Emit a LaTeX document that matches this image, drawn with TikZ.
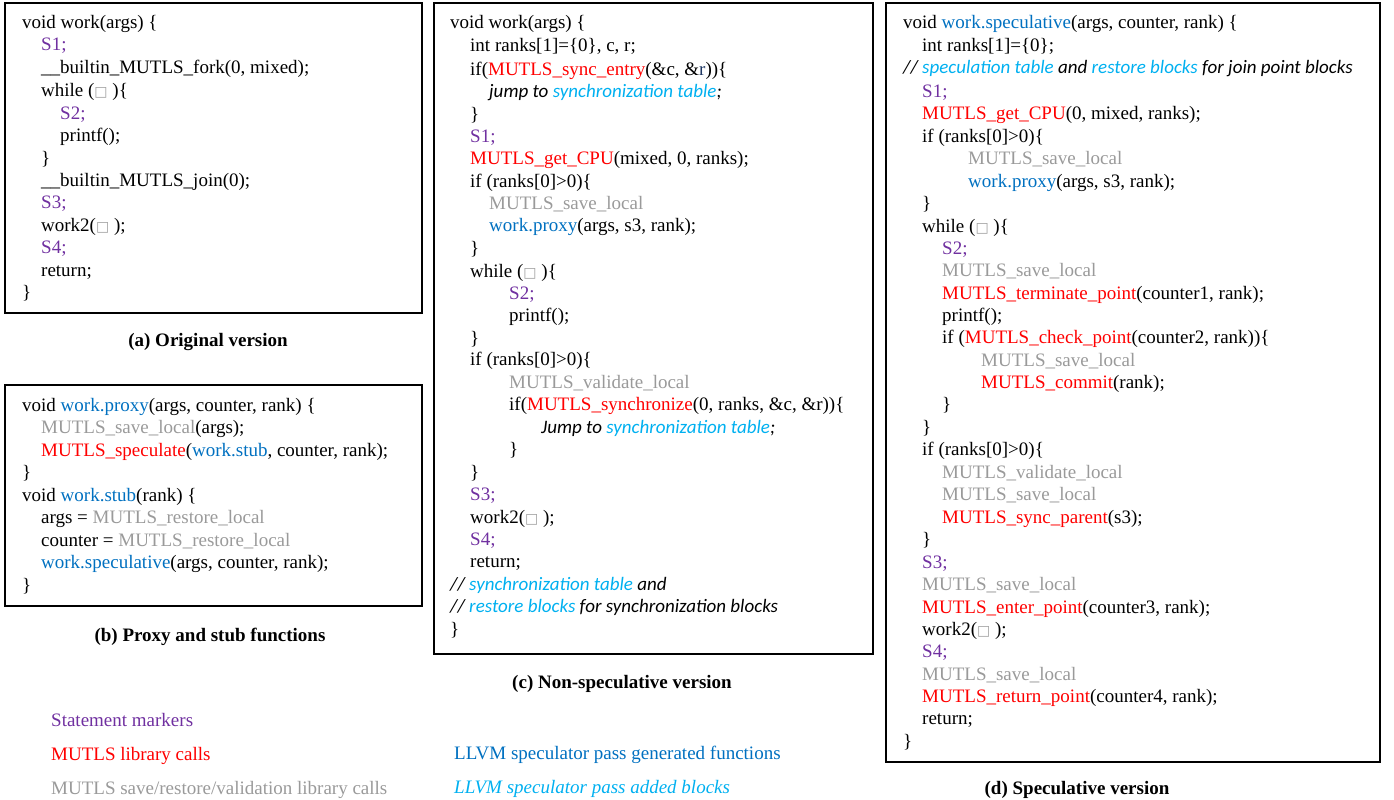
\documentclass[tikz,border=0pt]{standalone}
\usepackage{fontspec}
\setmainfont{Liberation Serif}
\newfontfamily\dejavu{DejaVu Sans}
\newfontfamily\carlito{Carlito}
\definecolor{cpurple}{HTML}{7030A0}
\definecolor{cred}{HTML}{FF0000}
\definecolor{cgray}{HTML}{9A9A9A}
\definecolor{cblue}{HTML}{0070C0}
\definecolor{clblue}{HTML}{00B0F0}
\definecolor{cnavy}{HTML}{1F3864}
\definecolor{boxgray}{HTML}{A0A0A0}
\newcommand\Cmk[1]{\textcolor{cpurple}{#1}}
\newcommand\Clib[1]{\textcolor{cred}{#1}}
\newcommand\Csv[1]{\textcolor{cgray}{#1}}
\newcommand\Cgen[1]{\textcolor{cblue}{#1}}
\newcommand\Cadd[1]{\textcolor{clblue}{#1}}
\newcommand\Ccom[1]{{\carlito\itshape #1}}
\newcommand\Bx{{\color{boxgray}\dejavu\fontsize{14}{14}\selectfont □}}
\newcounter{lnc}
\newcommand\Ln[3]{\stepcounter{lnc}\node[code] (ln\arabic{lnc}) at (#1,#2+6) {#3};}
\tikzset{
  code/.style={anchor=base west, inner sep=0pt, font=\fontsize{19}{23}\selectfont},
  panel/.style={draw=black, line width=1.4pt},
  caption/.style={anchor=base, inner sep=0pt, font=\fontsize{19}{23}\selectfont\bfseries},
}
\begin{document}
\begin{tikzpicture}[x=1pt,y=-1pt]
\useasboundingbox (0,0) rectangle (1394,800);
% panels
\draw[panel] (5,3) rectangle (422,313) node[pos=0,inner sep=0pt] (pa) {};
\draw[panel] (5,385) rectangle (422,606) node[pos=0,inner sep=0pt] (pb) {};
\draw[panel] (434,3) rectangle (873,654) node[pos=0,inner sep=0pt] (pc) {};
\draw[panel] (886,3) rectangle (1380,762) node[pos=0,inner sep=0pt] (pd) {};
% captions
\node[caption] (capa) at (208,346) {(a) Original version};
\node[caption] (capb) at (210,641) {(b) Proxy and stub functions};
\node[caption] (capc) at (622,688) {(c) Non-speculative version};
\node[caption] (capd) at (1077,794) {(d) Speculative version};
% (a)
\Ln{22}{23}{void work(args) \{}
\Ln{41}{45}{\Cmk{S1;}}
\Ln{41}{68}{\_\_builtin\_MUTLS\_fork(0, mixed);}
\Ln{41}{90}{while (\Bx\ )\{}
\Ln{60}{113}{\Cmk{S2;}}
\Ln{60}{135}{printf();}
\Ln{41}{158}{\}}
\Ln{41}{180}{\_\_builtin\_MUTLS\_join(0);}
\Ln{41}{202}{\Cmk{S3;}}
\Ln{41}{225}{work2(\Bx\ );}
\Ln{41}{247}{\Cmk{S4;}}
\Ln{41}{270}{return;}
\Ln{22}{292}{\}}
% (b)
\Ln{22}{405}{void \Cgen{work.proxy}(args, counter, rank) \{}
\Ln{41}{427}{\Csv{MUTLS\_save\_local}(args);}
\Ln{41}{450}{\Clib{MUTLS\_speculate}(\Cgen{work.stub}, counter, rank);}
\Ln{22}{472}{\}}
\Ln{22}{495}{void \Cgen{work.stub}(rank) \{}
\Ln{41}{517}{args = \Csv{MUTLS\_restore\_local}}
\Ln{41}{540}{counter = \Csv{MUTLS\_restore\_local}}
\Ln{41}{562}{\Cgen{work.speculative}(args, counter, rank);}
\Ln{22}{585}{\}}
% (c)
\Ln{450}{23}{void work(args) \{}
\Ln{470}{46}{int ranks[1]=\{0\}, c, r;}
\Ln{470}{69}{if(\Clib{MUTLS\_sync\_entry}(\&c, \&\textcolor{cnavy}{r}))\{}
\Ln{489}{91}{\Ccom{jump to \Cadd{synchronization table};}}
\Ln{470}{114}{\}}
\Ln{470}{136}{\Cmk{S1;}}
\Ln{470}{158}{\Clib{MUTLS\_get\_CPU}(mixed, 0, ranks);}
\Ln{470}{181}{if (ranks[0]>0)\{}
\Ln{489}{203}{\Csv{MUTLS\_save\_local}}
\Ln{489}{225}{\Cgen{work.proxy}(args, s3, rank);}
\Ln{470}{248}{\}}
\Ln{470}{271}{while (\Bx\ )\{}
\Ln{509}{293}{\Cmk{S2;}}
\Ln{509}{315}{printf();}
\Ln{470}{338}{\}}
\Ln{470}{359}{if (ranks[0]>0)\{}
\Ln{509}{382}{\Csv{MUTLS\_validate\_local}}
\Ln{509}{404}{if(\Clib{MUTLS\_synchronize}(0, ranks, \&c, \&r))\{}
\Ln{541}{427}{\Ccom{Jump to \Cadd{synchronization table};}}
\Ln{509}{449}{\}}
\Ln{470}{472}{\}}
\Ln{470}{494}{\Cmk{S3;}}
\Ln{470}{517}{work2(\Bx\ );}
\Ln{470}{539}{\Cmk{S4;}}
\Ln{470}{561}{return;}
\Ln{450}{584}{\Ccom{// \Cadd{synchronization table} and}}
\Ln{450}{606}{\Ccom{// \Cadd{restore blocks} for synchronization blocks}}
\Ln{450}{629}{\}}
% (d)
\Ln{903}{23}{void \Cgen{work.speculative}(args, counter, rank) \{}
\Ln{922}{46}{int ranks[1]=\{0\};}
\Ln{903}{68}{\Ccom{// \Cadd{speculation table} and \Cadd{restore blocks} for join point blocks}}
\Ln{922}{91}{\Cmk{S1;}}
\Ln{922}{113}{\Clib{MUTLS\_get\_CPU}(0, mixed, ranks);}
\Ln{922}{136}{if (ranks[0]>0)\{}
\Ln{968}{158}{\Csv{MUTLS\_save\_local}}
\Ln{968}{181}{\Cgen{work.proxy}(args, s3, rank);}
\Ln{922}{203}{\}}
\Ln{922}{226}{while (\Bx\ )\{}
\Ln{942}{248}{\Cmk{S2;}}
\Ln{942}{270}{\Csv{MUTLS\_save\_local}}
\Ln{942}{293}{\Clib{MUTLS\_terminate\_point}(counter1, rank);}
\Ln{942}{315}{printf();}
\Ln{942}{337}{if (\Clib{MUTLS\_check\_point}(counter2, rank))\{}
\Ln{981}{360}{\Csv{MUTLS\_save\_local}}
\Ln{981}{382}{\Clib{MUTLS\_commit}(rank);}
\Ln{942}{404}{\}}
\Ln{922}{427}{\}}
\Ln{922}{449}{if (ranks[0]>0)\{}
\Ln{942}{472}{\Csv{MUTLS\_validate\_local}}
\Ln{942}{494}{\Csv{MUTLS\_save\_local}}
\Ln{942}{517}{\Clib{MUTLS\_sync\_parent}(s3);}
\Ln{922}{539}{\}}
\Ln{922}{562}{\Cmk{S3;}}
\Ln{922}{584}{\Csv{MUTLS\_save\_local}}
\Ln{922}{607}{\Clib{MUTLS\_enter\_point}(counter3, rank);}
\Ln{922}{629}{work2(\Bx\ );}
\Ln{922}{651}{\Cmk{S4;}}
\Ln{922}{674}{\Csv{MUTLS\_save\_local}}
\Ln{922}{696}{\Clib{MUTLS\_return\_point}(counter4, rank);}
\Ln{922}{718}{return;}
\Ln{903}{741}{\}}
% legend
\Ln{51}{720}{\Cmk{Statement markers}}
\Ln{51}{754}{\Clib{MUTLS library calls}}
\Ln{51}{788}{\Csv{MUTLS save/restore/validation library calls}}
\Ln{454}{753}{\Cgen{LLVM speculator pass generated functions}}
\Ln{454}{787}{\Cadd{\itshape LLVM speculator pass added blocks}}
\end{tikzpicture}
\end{document}
